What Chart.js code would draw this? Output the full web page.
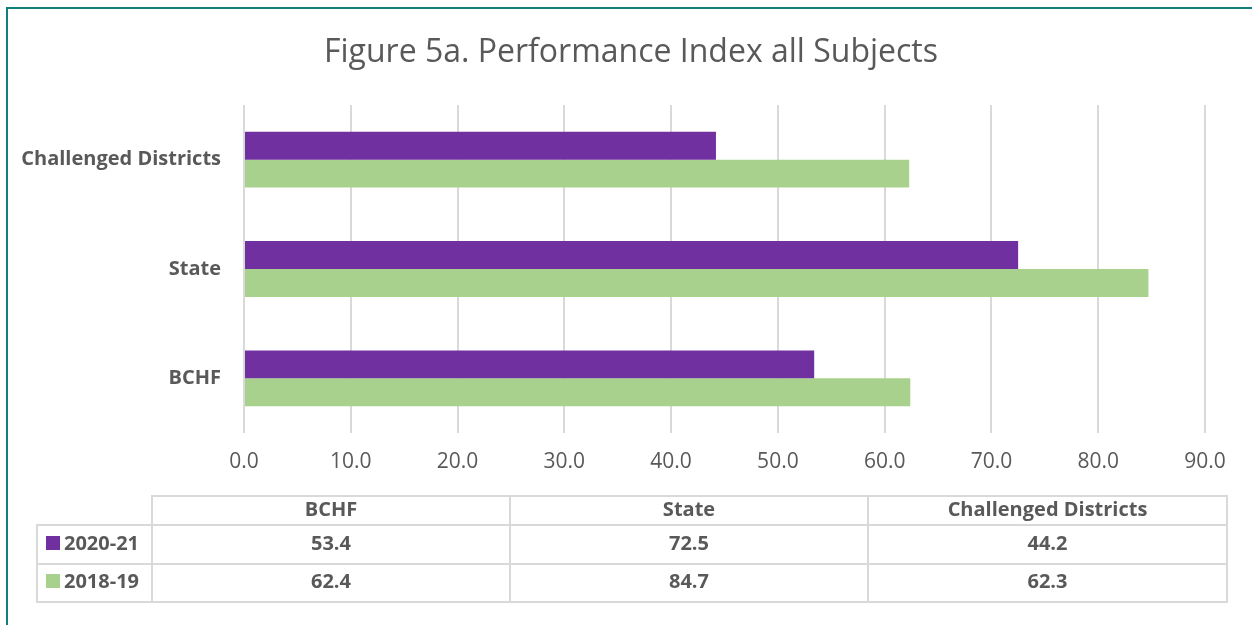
<!DOCTYPE html>
<html>
<head>
<meta charset="utf-8">
<script src="https://cdn.jsdelivr.net/npm/chart.js@4"></script>
<style>
  html, body { margin: 0; padding: 0; background: #fff; }
  #wrap { position: relative; width: 1252px; height: 625px; overflow: hidden; }
  #frame { position: absolute; left: 6px; top: 7px; right: -10px; bottom: -10px;
           border-left: 2px solid #117f7b; border-top: 2px solid #117f7b; }
  #chart { position: absolute; left: 0; top: 0; }
  #title { position: absolute; left: 0; width: 1262px; top: 30px; text-align: center;
           font-family: "Open Sans", sans-serif; font-size: 32px; line-height: 40px; color: #595959; }
  #tbl { position: absolute; left: 36px; top: 495px; width: 1190px; table-layout: fixed; border-collapse: collapse;
         font-family: "Open Sans", sans-serif; font-weight: bold; font-size: 20px; line-height: 1; color: #595959; }
  #tbl td { border: 2px solid #d9d9d9; text-align: center; padding: 0 0 4px 0; white-space: nowrap; }
  #tbl td.corner { border-top: none; border-left: none; }
  #tbl td.key { text-align: left; padding-left: 8px; }
  .sw { display: inline-block; width: 14px; height: 14px; margin-right: 4px; vertical-align: 0px; }
</style>
</head>
<body>
<div id="wrap">
  <div id="frame"></div>
  <canvas id="chart" width="1252" height="625"></canvas>
  <div id="title"></div>
  <table id="tbl"></table>
</div>
<script>
// DATA
const categories = ["BCHF", "State", "Challenged Districts"];
const series_names = ["2020-21", "2018-19"];
const values_2020_21 = [53.4, 72.5, 44.2];
const values_2018_19 = [62.4, 84.7, 62.3];
const series_colors = ["#7030A0", "#A9D18E"];
const chart_title = "Figure 5a. Performance Index all Subjects";

const text_color = "#595959";
const all_values = [values_2020_21, values_2018_19];

document.getElementById("title").textContent = chart_title;

// DATA TABLE UNDER THE CHART
const tbl = document.getElementById("tbl");
let html = '<colgroup><col style="width:115px"><col style="width:358px"><col style="width:358px"><col style="width:359px"></colgroup>';
html += '<tr style="height:29px"><td class="corner"></td>';
categories.forEach(c => { html += `<td>${c}</td>`; });
html += '</tr>';
series_names.forEach((s, si) => {
	html += `<tr style="height:${si == 0 ? 39 : 38}px"><td class="key"><span class="sw" style="background:${series_colors[si]}"></span>${s}</td>`;
	all_values[si].forEach(v => { html += `<td>${v.toFixed(1)}</td>`; });
	html += '</tr>';
});
tbl.innerHTML = html;

// CHART
const ctx = document.getElementById("chart").getContext("2d");
new Chart(ctx, {
	type: 'bar',
	data: {
		labels: categories,
		datasets: series_names.map((s, i) => ({
			label: s,
			data: all_values[i],
			backgroundColor: series_colors[i],
			borderWidth: 0,
			barPercentage: 1.0,
			categoryPercentage: 0.51
		}))
	},
	options: {
		indexAxis: 'y',
		responsive: false,
		animation: false,
		layout: { padding: { left: 0, right: 47, top: 105, bottom: 0 } },
		plugins: {
			legend: { display: false },
			tooltip: { enabled: false },
			title: { display: false }
		},
		scales: {
			x: {
				min: 0,
				max: 90,
				ticks: {
					stepSize: 10,
					color: text_color,
					font: { family: 'Open Sans', size: 21 },
					padding: 16,
					callback: v => v.toFixed(1)
				},
				grid: { color: '#d9d9d9', lineWidth: 2, drawTicks: false },
				border: { display: false },
				afterFit: s => { s.height = 192; }
			},
			y: {
				reverse: true,
				ticks: {
					color: text_color,
					font: { family: 'Open Sans', size: 20, weight: 'bold' },
					padding: 15
				},
				grid: { display: false },
				border: { display: false },
				afterFit: s => { s.width = 244; }
			}
		}
	}
});
</script>
</body>
</html>
